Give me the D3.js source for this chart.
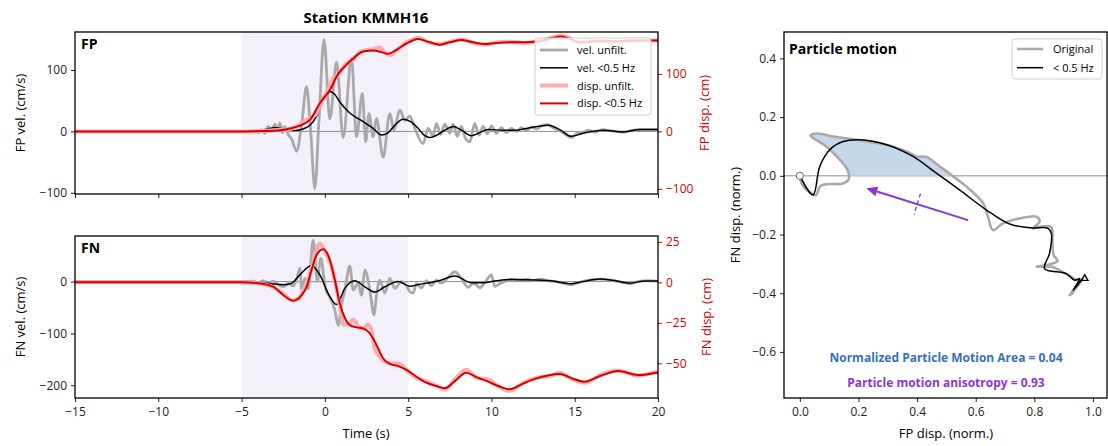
<!DOCTYPE html>
<html>
<head>
<meta charset="utf-8">
<script src="https://cdn.jsdelivr.net/npm/d3@7"></script>
<style>
body { margin: 0; background: #fff; }
svg { display: block; font-family: "Open Sans", sans-serif; }
</style>
</head>
<body>
<div id="chart"></div>
<script>
// ---- Data ----
const stationName = "Station KMMH16";
const timeTicks = [-15, -10, -5, 0, 5, 10, 15, 20];
const windowSpan = [-5, 5];

// FP component: [time s, value]
const fpVelRaw = [[-15,0],[-5,0],[-4.3,0],[-4.0,-2],[-3.8,3],[-3.6,-3],[-3.4,8],[-3.2,0],[-3.0,12],[-2.85,2],[-2.7,14],[-2.55,-2],[-2.4,8],[-2.2,-5],[-2.0,-12],[-1.7,-32],[-1.4,10],[-1.1,73],[-0.85,0],[-0.6,-93],[-0.35,20],[-0.05,150],[0.3,20],[0.7,113],[1.1,-10],[1.6,119],[1.9,-9],[2.25,62],[2.45,-17],[2.65,29],[2.9,-9],[3.1,21],[3.5,-42],[3.9,29],[4.15,2],[4.5,35],[4.8,18],[5.1,25],[5.4,5],[5.9,-20],[6.2,5],[6.5,-8],[6.7,13],[6.95,-5],[7.2,12],[7.5,-3],[7.7,12],[7.95,-8],[8.2,8],[8.45,-12],[8.7,-17],[9.0,13],[9.25,-6],[9.5,8],[9.75,-4],[10.0,9],[10.3,-3],[10.6,6],[10.9,-2],[11.2,5],[11.5,0],[11.8,6],[12.1,2],[12.4,7],[12.7,4],[13.0,9],[13.4,11],[13.7,6],[14.1,1],[14.5,-6],[14.8,-10],[15.1,-4],[15.5,-2],[15.8,2],[16.2,-1],[16.7,3],[17.2,1],[17.9,-1],[18.5,2],[19.0,3],[20,3]];
const fpVelLow = [[-15,0],[-5,0],[-4.2,0],[-3.6,3],[-3.0,6],[-2.4,4],[-1.8,1.5],[-1.3,4],[-0.9,10],[-0.5,25],[-0.2,45],[0.3,65],[0.6,60],[0.9,48],[1.5,30],[2.3,16],[2.9,5],[3.4,-6],[3.8,-2],[4.1,7],[4.7,20],[5.2,15],[5.6,5],[6.0,-7],[6.3,-10],[6.8,-5],[7.2,2],[7.7,8],[8.2,2],[8.8,-7],[9.3,-2],[9.8,3],[10.7,2],[11.5,2],[12.3,6],[13.4,10],[14.1,3],[14.8,-8],[15.5,-3],[16.7,2],[17.9,-1],[18.9,3],[20,3]];
const fpDispRaw = [[-15,0],[-5,0],[-3,2],[-2.1,4],[-1.5,12],[-1.0,22],[-0.6,28],[-0.3,45],[0.2,74],[0.5,92],[0.8,98],[1.1,112],[1.5,122],[1.7,125],[2.0,136],[2.3,140],[2.9,143],[3.3,146],[3.6,137],[3.9,133],[4.3,141],[4.9,155],[5.3,160],[5.6,163],[6.3,154],[6.9,152],[7.5,156],[8.2,160],[8.9,154],[9.6,151],[10.3,155],[11.1,156],[12.0,154],[12.9,158],[13.6,163],[14.2,167],[14.8,161],[15.3,154],[16.2,158],[17.5,156],[18.5,158],[20,158]];
const fpDispLow = [[-15,0],[-5,0],[-3,1],[-2.1,5],[-1.5,10],[-0.9,20],[-0.3,49],[0.3,72],[0.8,100],[1.1,110],[1.7,127],[2.3,139],[2.9,141],[3.4,138],[3.8,135],[4.3,142],[4.9,153],[5.6,161],[6.3,155],[6.9,151],[7.5,155],[8.2,159],[8.9,155],[9.6,152],[10.3,154],[11.1,155],[12.0,155],[12.9,157],[13.6,162],[14.2,165],[14.8,160],[15.3,155],[16.2,157],[17.5,157],[18.5,158],[20,158]];

// FN component: [time s, value]
const fnVelRaw = [[-15,0],[-5,0],[-4.3,1],[-4.0,-3],[-3.7,2],[-3.4,-4],[-3.1,1],[-2.8,-6],[-2.5,-10],[-2.2,-4],[-1.9,-8],[-1.7,3],[-1.5,26],[-1.4,-14],[-1.2,6],[-1.0,-14],[-0.7,80],[-0.45,0],[-0.25,45],[0.05,-15],[0.3,-30],[0.6,-55],[0.8,-84],[1.0,-45],[1.2,-16],[1.5,30],[1.7,-16],[2.0,-3],[2.2,-26],[2.4,22],[2.7,-16],[2.95,-64],[3.1,-26],[3.3,3],[3.6,-22],[3.9,6],[4.2,-13],[4.6,0],[4.9,-8],[5.1,-19],[5.3,-22],[5.5,-4],[5.8,-12],[6.1,2],[6.4,-8],[6.7,3],[7.0,-3],[7.4,8],[7.8,19],[8.2,6],[8.6,-11],[8.9,-4],[9.1,-6],[9.3,-12],[9.6,-2],[10.0,13],[10.2,-9],[10.5,-4],[10.9,2],[11.3,5],[11.7,3],[12.1,5],[12.5,2],[12.9,5],[13.4,2],[13.9,0],[14.4,-4],[14.8,-6],[15.2,-2],[15.8,3],[16.5,5],[17.2,3],[17.8,-1],[18.3,-4],[18.8,0],[19.4,2],[20,1]];
const fnVelLow = [[-15,0],[-5,0],[-4,-1],[-3.2,-4],[-2.5,-6],[-2.0,-3],[-1.5,13],[-0.8,31],[-0.3,13],[0.3,-29],[0.7,-44],[1.2,-13],[1.8,1.5],[2.4,-10],[3.0,-20],[3.6,-10],[4.4,0],[5.1,-9],[5.7,-5],[6.3,-2],[6.8,1],[7.8,11],[8.8,-2],[9.5,-2],[10.2,1],[11.1,4],[12.7,3],[13.7,1],[14.7,-4],[15.5,0],[16.5,5],[17.4,2],[18.3,-3],[19.2,1],[20,1]];
const fnDispRaw = [[-15,0],[-5,0],[-4,-0.5],[-3.1,-3],[-2.5,-7],[-2.0,-11],[-1.6,-10],[-1.3,-5],[-1.0,2],[-0.7,12],[-0.3,24],[0.0,19],[0.4,10],[0.7,-4],[0.9,-15],[1.1,-26],[1.4,-26],[1.7,-23],[2.0,-27],[2.3,-29],[2.6,-26],[2.8,-30],[3.0,-41],[3.3,-46],[3.6,-49],[4.0,-50],[4.3,-50],[4.6,-51],[5.0,-55],[5.5,-59],[6.1,-61],[6.7,-64],[7.2,-66],[7.8,-60],[8.5,-54],[9.1,-59],[9.8,-60],[10.4,-64],[11.1,-67],[11.9,-62],[12.7,-59],[13.4,-58],[14.1,-56],[14.9,-60],[15.6,-62],[16.6,-57],[17.6,-54.5],[18.8,-57.5],[20,-55]];
const fnDispLow = [[-15,0],[-5,0],[-4,-0.5],[-3.1,-2.7],[-2.5,-7.8],[-1.9,-11.3],[-1.4,-8],[-1.1,-3],[-0.8,7.6],[-0.5,16.8],[-0.1,20.4],[0.3,13.8],[0.6,1.4],[0.9,-13],[1.2,-22],[1.5,-26.4],[1.9,-27.8],[2.3,-28.4],[2.7,-31.5],[3.1,-38.7],[3.5,-47],[3.9,-50.4],[4.4,-51.7],[4.9,-54],[5.5,-58.3],[6.1,-62],[6.7,-64],[7.2,-65.4],[7.8,-61],[8.5,-55.8],[9.1,-58.5],[9.8,-61.3],[10.4,-64],[11.1,-66],[11.9,-62.5],[12.7,-59.3],[13.4,-57.5],[14.1,-56.6],[14.9,-59.5],[15.6,-61.3],[16.6,-57.5],[17.6,-54.8],[18.8,-57.2],[20,-55.6]];

// Particle motion: [FP norm, FN norm]
const pmOriginal = [[0,0],[0.006,-0.025],[0.02,-0.045],[0.04,-0.06],[0.055,-0.066],[0.07,-0.035],[0.1,-0.028],[0.145,-0.027],[0.165,-0.015],[0.165,0.015],[0.136,0.055],[0.09,0.1],[0.045,0.129],[0.036,0.137],[0.057,0.144],[0.114,0.134],[0.205,0.121],[0.296,0.106],[0.364,0.083],[0.398,0.066],[0.432,0.064],[0.477,0.032],[0.523,-0.002],[0.568,-0.036],[0.625,-0.093],[0.642,-0.139],[0.659,-0.185],[0.693,-0.162],[0.75,-0.145],[0.807,-0.139],[0.818,-0.156],[0.795,-0.179],[0.83,-0.172],[0.858,-0.175],[0.862,-0.22],[0.866,-0.27],[0.88,-0.29],[0.84,-0.305],[0.807,-0.31],[0.86,-0.31],[0.9,-0.33],[0.935,-0.35],[0.95,-0.36],[0.93,-0.4],[0.92,-0.407],[0.945,-0.375],[0.965,-0.35],[0.945,-0.38],[0.955,-0.36]];
const pmLow = [[0,0],[0.045,-0.065],[0.068,0.032],[0.102,0.089],[0.148,0.117],[0.205,0.123],[0.296,0.106],[0.386,0.066],[0.466,0.009],[0.545,-0.048],[0.636,-0.116],[0.716,-0.164],[0.784,-0.177],[0.847,-0.179],[0.858,-0.196],[0.852,-0.264],[0.835,-0.316],[0.909,-0.333],[0.938,-0.356],[0.955,-0.35],[0.932,-0.39],[0.965,-0.35],[0.945,-0.373],[0.955,-0.36]];
const pmArrowFrom = [0.574, -0.151];
const pmArrowTo = [0.227, -0.042];
const pmAreaText = "Normalized Particle Motion Area = 0.04";
const pmAnisoText = "Particle motion anisotropy = 0.93";
const pmXTicks = [0, 0.2, 0.4, 0.6, 0.8, 1.0];
const pmYTicks = [-0.6, -0.4, -0.2, 0, 0.2, 0.4];

// ---- Layout ----
const width = 1108, height = 446;
const RED = "#d40000", PINK = "#ffabab", GREY = "#a9a9a9";

const svg = d3.select("#chart").append("svg")
    .attr("width", width)
    .attr("height", height);

const x = d3.scaleLinear().domain([-15, 20]).range([75, 658]);

const panels = [
    { name: "FP", top: 32, bottom: 194, velDomain: [-102, 162], dispDomain: [-109, 173],
      velTicks: [-100, 0, 100], dispTicks: [-100, 0, 100],
      velRaw: fpVelRaw, velLow: fpVelLow, dispRaw: fpDispRaw, dispLow: fpDispLow,
      velLabel: "FP vel. (cm/s)", dispLabel: "FP disp. (cm)", xLabels: false },
    { name: "FN", top: 236, bottom: 398, velDomain: [-224.5, 88], dispDomain: [-71.4, 28.6],
      velTicks: [-200, -100, 0], dispTicks: [-50, -25, 0, 25],
      velRaw: fnVelRaw, velLow: fnVelLow, dispRaw: fnDispRaw, dispLow: fnDispLow,
      velLabel: "FN vel. (cm/s)", dispLabel: "FN disp. (cm)", xLabels: true }
];

function styleAxis(g, color) {
    g.selectAll("path.domain").remove();
    g.selectAll(".tick line").attr("stroke", color).attr("stroke-width", 1);
    g.selectAll(".tick text").attr("fill", color).style("font-size", "12px")
        .style("font-family", "'Open Sans', sans-serif");
}

panels.forEach((p, i) => {
    const yv = d3.scaleLinear().domain(p.velDomain).range([p.bottom, p.top]);
    const yd = d3.scaleLinear().domain(p.dispDomain).range([p.bottom, p.top]);
    const g = svg.append("g");

    const clipId = "clip" + i;
    svg.append("clipPath").attr("id", clipId).append("rect")
        .attr("x", x.range()[0]).attr("y", p.top)
        .attr("width", x.range()[1] - x.range()[0]).attr("height", p.bottom - p.top);

    const plot = g.append("g").attr("clip-path", `url(#${clipId})`);

    // shaded window
    plot.append("rect")
        .attr("x", x(windowSpan[0])).attr("y", p.top)
        .attr("width", x(windowSpan[1]) - x(windowSpan[0]))
        .attr("height", p.bottom - p.top)
        .attr("fill", "#f4f0fa");

    // zero line
    plot.append("line")
        .attr("x1", x.range()[0]).attr("x2", x.range()[1])
        .attr("y1", yv(0)).attr("y2", yv(0))
        .attr("stroke", "#808080").attr("stroke-width", 0.9);

    const lineV = d3.line().x(d => x(d[0])).y(d => yv(d[1])).curve(d3.curveMonotoneX);
    const lineD = d3.line().x(d => x(d[0])).y(d => yd(d[1])).curve(d3.curveMonotoneX);

    plot.append("path").datum(p.velRaw).attr("d", lineV)
        .attr("fill", "none").attr("stroke", GREY).attr("stroke-width", 2.8)
        .attr("stroke-linejoin", "round");
    plot.append("path").datum(p.velLow).attr("d", lineV)
        .attr("fill", "none").attr("stroke", "#000").attr("stroke-width", 1.5);
    plot.append("path").datum(p.dispRaw).attr("d", lineD)
        .attr("fill", "none").attr("stroke", PINK).attr("stroke-width", 4)
        .attr("stroke-linejoin", "round");
    plot.append("path").datum(p.dispLow).attr("d", lineD)
        .attr("fill", "none").attr("stroke", RED).attr("stroke-width", 2);

    // axes
    const xa = g.append("g").attr("transform", `translate(0,${p.bottom})`)
        .call(d3.axisBottom(x).tickValues(timeTicks).tickSize(4).tickPadding(5)
            .tickFormat(p.xLabels ? d3.format("") : ""));
    styleAxis(xa, "#222");

    const ya = g.append("g").attr("transform", `translate(${x.range()[0]},0)`)
        .call(d3.axisLeft(yv).tickValues(p.velTicks).tickSize(4).tickPadding(4));
    styleAxis(ya, "#222");

    const yda = g.append("g").attr("transform", `translate(${x.range()[1]},0)`)
        .call(d3.axisRight(yd).tickValues(p.dispTicks).tickSize(4).tickPadding(4));
    styleAxis(yda, RED);

    // frame
    g.append("rect")
        .attr("x", x.range()[0]).attr("y", p.top)
        .attr("width", x.range()[1] - x.range()[0]).attr("height", p.bottom - p.top)
        .attr("fill", "none").attr("stroke", "#000").attr("stroke-width", 1.3);

    // labels
    g.append("text").attr("x", 81).attr("y", p.top + 17)
        .style("font-size", "14px").style("font-weight", "bold").text(p.name);

    g.append("text")
        .attr("transform", `translate(25,${(p.top + p.bottom) / 2}) rotate(-90)`)
        .attr("text-anchor", "middle").style("font-size", "13px").text(p.velLabel);

    g.append("text")
        .attr("transform", `translate(${i === 0 ? 709 : 711},${(p.top + p.bottom) / 2}) rotate(-90)`)
        .attr("text-anchor", "middle").attr("fill", RED)
        .style("font-size", "13px").text(p.dispLabel);
});

svg.append("text").attr("x", 366).attr("y", 23).attr("text-anchor", "middle")
    .style("font-size", "15px").style("font-weight", "bold").text(stationName);

svg.append("text").attr("x", 366).attr("y", 438).attr("text-anchor", "middle")
    .style("font-size", "13px").text("Time (s)");

// ---- legend for the time series ----
const legendItems = [
    { label: "vel. unfilt.", color: GREY, w: 2.8 },
    { label: "vel. <0.5 Hz", color: "#000", w: 1.5 },
    { label: "disp. unfilt.", color: PINK, w: 4 },
    { label: "disp. <0.5 Hz", color: RED, w: 2 }
];
const lg = svg.append("g").attr("transform", "translate(535,38)");
lg.append("rect").attr("width", 116).attr("height", 77).attr("rx", 3)
    .attr("fill", "#fff").attr("fill-opacity", 0.8)
    .attr("stroke", "#d0d0d0").attr("stroke-width", 1);
legendItems.forEach((d, k) => {
    const yy = 12 + k * 17.8;
    lg.append("line").attr("x1", 5).attr("x2", 33).attr("y1", yy).attr("y2", yy)
        .attr("stroke", d.color).attr("stroke-width", d.w);
    lg.append("text").attr("x", 42).attr("y", yy + 4).style("font-size", "11px").text(d.label);
});

// ---- particle motion panel ----
const pm = { left: 784, right: 1107, top: 32, bottom: 398 };
const px = d3.scaleLinear().domain([-0.054, 1.048]).range([pm.left, pm.right]);
const py = d3.scaleLinear().domain([-0.757, 0.49]).range([pm.bottom, pm.top]);
const pg = svg.append("g");

svg.append("clipPath").attr("id", "clipPm").append("rect")
    .attr("x", pm.left).attr("y", pm.top)
    .attr("width", pm.right - pm.left).attr("height", pm.bottom - pm.top);
const pplot = pg.append("g").attr("clip-path", "url(#clipPm)");

pplot.append("line").attr("x1", pm.left).attr("x2", pm.right)
    .attr("y1", py(0)).attr("y2", py(0))
    .attr("stroke", "#808080").attr("stroke-width", 0.9);

// area enclosed above the zero line
const areaPts = pmOriginal.map(d => [d[0], Math.max(d[1], 0)]);
pplot.append("path")
    .attr("d", d3.line().x(d => px(d[0])).y(d => py(d[1])).curve(d3.curveCatmullRom)(areaPts) + "Z")
    .attr("fill", "#c5d8ea").attr("stroke", "none");

const pmLine = d3.line().x(d => px(d[0])).y(d => py(d[1])).curve(d3.curveCatmullRom.alpha(0.5));
pplot.append("path").datum(pmOriginal).attr("d", pmLine)
    .attr("fill", "none").attr("stroke", GREY).attr("stroke-width", 2.6)
    .attr("stroke-linejoin", "round");
pplot.append("path").datum(pmLow).attr("d", pmLine)
    .attr("fill", "none").attr("stroke", "#000").attr("stroke-width", 1.5);

pplot.append("circle").attr("cx", px(0)).attr("cy", py(0)).attr("r", 3.6)
    .attr("fill", "#fff").attr("stroke", "#666").attr("stroke-width", 1);

const endPt = pmLow[pmLow.length - 1];
pplot.append("path")
    .attr("d", d3.symbol(d3.symbolTriangle, 18)())
    .attr("transform", `translate(${px(endPt[0]) + 5},${py(endPt[1]) - 3})`)
    .attr("fill", "#fff").attr("stroke", "#000").attr("stroke-width", 1.4);

// anisotropy arrow
const PURPLE = "#8a36d6";
const a0 = [px(pmArrowFrom[0]), py(pmArrowFrom[1])];
const a1 = [px(pmArrowTo[0]), py(pmArrowTo[1])];
const dx = a1[0] - a0[0], dy = a1[1] - a0[1];
const len = Math.hypot(dx, dy);
const ux = dx / len, uy = dy / len;
const headL = 11, headW = 5;
const base = [a1[0] - ux * headL, a1[1] - uy * headL];
pplot.append("line").attr("x1", a0[0]).attr("y1", a0[1]).attr("x2", base[0]).attr("y2", base[1])
    .attr("stroke", PURPLE).attr("stroke-width", 2);
pplot.append("path")
    .attr("d", `M${a1[0]},${a1[1]}L${base[0] - uy * headW},${base[1] + ux * headW}L${base[0] + uy * headW},${base[1] - ux * headW}Z`)
    .attr("fill", PURPLE);
const mid = [(a0[0] + a1[0]) / 2, (a0[1] + a1[1]) / 2];
pplot.append("line")
    .attr("x1", mid[0] - uy * 11).attr("y1", mid[1] + ux * 11)
    .attr("x2", mid[0] + uy * 11).attr("y2", mid[1] - ux * 11)
    .attr("stroke", PURPLE).attr("stroke-width", 1.3).attr("stroke-dasharray", "4,3");

// axes
const pxa = pg.append("g").attr("transform", `translate(0,${pm.bottom})`)
    .call(d3.axisBottom(px).tickValues(pmXTicks).tickSize(4).tickPadding(5).tickFormat(d3.format(".1f")));
styleAxis(pxa, "#222");
const pya = pg.append("g").attr("transform", `translate(${pm.left},0)`)
    .call(d3.axisLeft(py).tickValues(pmYTicks).tickSize(4).tickPadding(4).tickFormat(d3.format(".1f")));
styleAxis(pya, "#222");

pg.append("rect").attr("x", pm.left).attr("y", pm.top)
    .attr("width", pm.right - pm.left).attr("height", pm.bottom - pm.top)
    .attr("fill", "none").attr("stroke", "#000").attr("stroke-width", 1.3);

pg.append("text").attr("x", 789).attr("y", 54)
    .style("font-size", "14px").style("font-weight", "bold").text("Particle motion");

pg.append("text").attr("x", 946).attr("y", 362).attr("text-anchor", "middle")
    .attr("fill", "#3471b6").style("font-size", "12px").style("font-weight", "bold").text(pmAreaText);
pg.append("text").attr("x", 946).attr("y", 387).attr("text-anchor", "middle")
    .attr("fill", "#8a36d6").style("font-size", "12px").style("font-weight", "bold").text(pmAnisoText);

pg.append("text").attr("x", 946).attr("y", 438).attr("text-anchor", "middle")
    .style("font-size", "13px").text("FP disp. (norm.)");
pg.append("text")
    .attr("transform", `translate(740,${(pm.top + pm.bottom) / 2}) rotate(-90)`)
    .attr("text-anchor", "middle").style("font-size", "13px").text("FN disp. (norm.)");

// particle motion legend
const plg = pg.append("g").attr("transform", "translate(1012,39)");
plg.append("rect").attr("width", 90).attr("height", 40).attr("rx", 3)
    .attr("fill", "#fff").attr("fill-opacity", 0.8)
    .attr("stroke", "#d0d0d0").attr("stroke-width", 1);
[{ label: "Original", color: GREY, w: 2.6 }, { label: "< 0.5 Hz", color: "#000", w: 1.5 }]
    .forEach((d, k) => {
        const yy = 10 + k * 18.7;
        plg.append("line").attr("x1", 5).attr("x2", 31).attr("y1", yy).attr("y2", yy)
            .attr("stroke", d.color).attr("stroke-width", d.w);
        plg.append("text").attr("x", 41).attr("y", yy + 4).style("font-size", "11px").text(d.label);
    });
</script>
</body>
</html>
